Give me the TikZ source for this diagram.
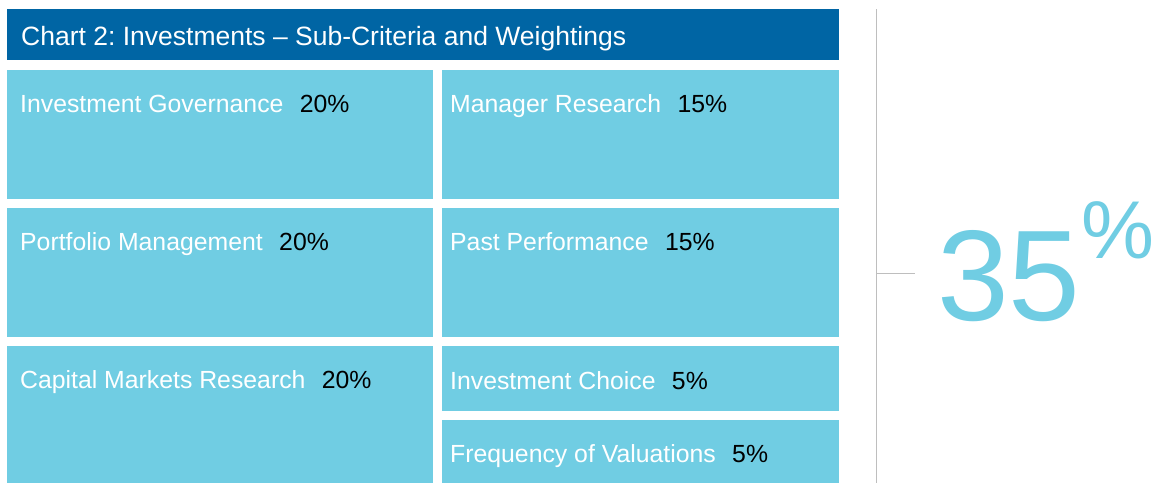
\documentclass[tikz,border=0pt]{standalone}
\usepackage{fontspec}
\setmainfont{Liberation Sans}
\frenchspacing
\definecolor{hdr}{RGB}{0,101,164}
\definecolor{cell}{RGB}{112,205,227}
\definecolor{rule}{RGB}{190,190,190}
\begin{document}
\begin{tikzpicture}[x=1pt,y=-1pt,
  cellbox/.style={fill=cell,draw=none,inner sep=0pt,anchor=north west},
  lbl/.style={text=white,inner sep=0pt,anchor=base west,font=\fontsize{24.8}{28}\selectfont},
  pct/.style={text=black,inner sep=0pt,anchor=base west,xshift=16pt,font=\fontsize{24.8}{28}\selectfont},
  bignum/.style={text=cell,inner sep=0pt,anchor=base west}]
\useasboundingbox (0,0) rectangle (1155,483);
% header
\node[fill=hdr,inner sep=0pt,anchor=north west,minimum width=832pt,minimum height=51pt] (hdrbox) at (7,9) {};
\node[text=white,inner sep=0pt,anchor=base west,font=\fontsize{26.5}{30}\selectfont] (title) at (21,45) {Chart 2: Investments -- Sub-Criteria and Weightings};
% cells
\node[cellbox,minimum width=426pt,minimum height=128.5pt] (c1) at (7,70) {};
\node[cellbox,minimum width=426pt,minimum height=128.5pt] (c2) at (7,208) {};
\node[cellbox,minimum width=426pt,minimum height=137pt] (c3) at (7,346) {};
\node[cellbox,minimum width=397pt,minimum height=128.5pt] (c4) at (442,70) {};
\node[cellbox,minimum width=397pt,minimum height=128.5pt] (c5) at (442,208) {};
\node[cellbox,minimum width=397pt,minimum height=64.5pt] (c6) at (442,346) {};
\node[cellbox,minimum width=397pt,minimum height=63pt] (c7) at (442,420) {};
% labels
\node[lbl] (t1) at (20,112) {Investment Governance};
\node[pct] (p1) at (t1.base east) {20\%};
\node[lbl] (t2) at (20,250) {Portfolio Management};
\node[pct] (p2) at (t2.base east) {20\%};
\node[lbl] (t3) at (20,388) {Capital Markets Research};
\node[pct] (p3) at (t3.base east) {20\%};
\node[lbl] (t4) at (450,112) {Manager Research};
\node[pct] (p4) at (t4.base east) {15\%};
\node[lbl] (t5) at (450,250) {Past Performance};
\node[pct] (p5) at (t5.base east) {15\%};
\node[lbl] (t6) at (450,389) {Investment Choice};
\node[pct] (p6) at (t6.base east) {5\%};
\node[lbl] (t7) at (450,462) {Frequency of Valuations};
\node[pct] (p7) at (t7.base east) {5\%};
% right side
\coordinate (vtop) at (876,9);
\coordinate (vbot) at (876,483);
\coordinate (tick0) at (876,273.5);
\coordinate (tick1) at (915,273.5);
\draw[rule,line width=1pt] (vtop) -- (vbot);
\draw[rule,line width=1pt] (tick0) -- (tick1);
\node[bignum,font=\fontsize{129}{130}\selectfont] (num) at (937,320) {35};
\node[bignum,font=\fontsize{82}{84}\selectfont] (pc) at (1081,258) {\%};
\end{tikzpicture}
\end{document}
